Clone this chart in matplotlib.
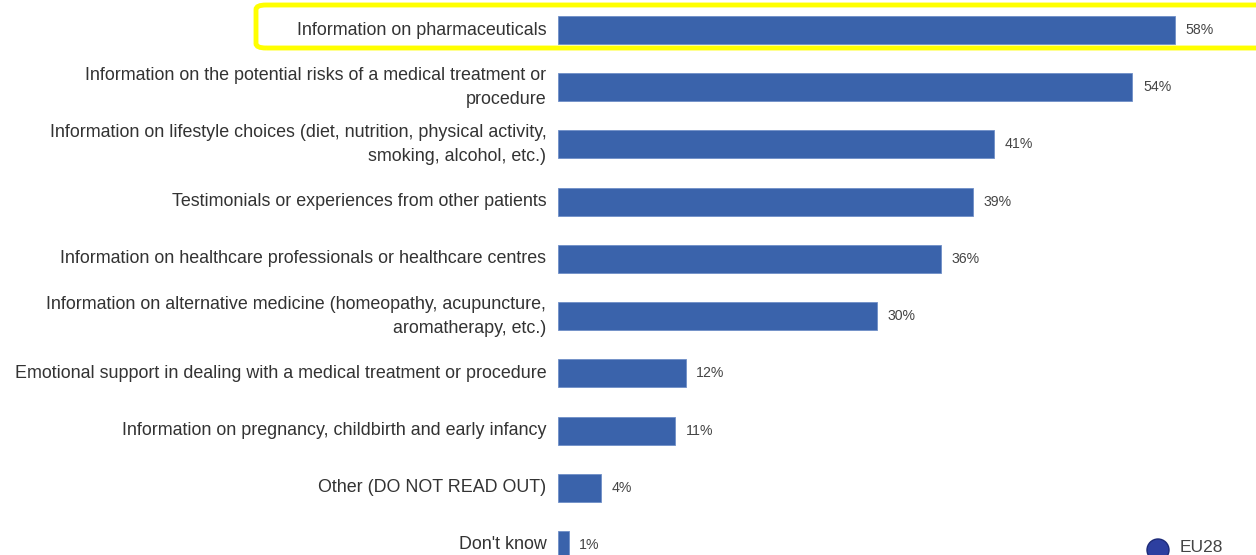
import matplotlib.pyplot as plt
from matplotlib.patches import FancyBboxPatch, Ellipse

# ── data ─────────────────────────────────────────────────────────────────────
categories = [
    "Information on pharmaceuticals",
    "Information on the potential risks of a medical treatment or\nprocedure",
    "Information on lifestyle choices (diet, nutrition, physical activity,\nsmoking, alcohol, etc.)",
    "Testimonials or experiences from other patients",
    "Information on healthcare professionals or healthcare centres",
    "Information on alternative medicine (homeopathy, acupuncture,\naromatherapy, etc.)",
    "Emotional support in dealing with a medical treatment or procedure",
    "Information on pregnancy, childbirth and early infancy",
    "Other (DO NOT READ OUT)",
    "Don't know",
]
values = [58, 54, 41, 39, 36, 30, 12, 11, 4, 1]
series_name = "EU28"

BAR_COLOR = "#3A63AB"
plt.rcParams["font.family"] = ["Liberation Sans", "DejaVu Sans"]

W, H = 1256, 555
fig = plt.figure(figsize=(W / 100, H / 100), dpi=100)
left = 558 / W
ax = fig.add_axes([left, 0, 1 - left, 1])

px_per_pct = (1175 - 558) / 58
ax.set_xlim(0, (W - 558) / px_per_pct)
row = 57.2
ax.set_ylim(9 + (H - 545) / row, -30 / row)

ypos = range(len(values))
ax.barh(ypos, values, height=28 / row, color=BAR_COLOR, edgecolor="#6f8fc8", linewidth=0.6)

for y, v in zip(ypos, values):
    ax.text(v + 1.0, y, f"{v}%", va="center", ha="left", fontsize=10.2, color="#444444")

for y, lab in zip(ypos, categories):
    ax.text(-1.1, y, lab, va="center", ha="right", fontsize=12.9,
            color="#333333", linespacing=1.55, clip_on=False)

ax.axis("off")

# yellow highlight round the first row
box = FancyBboxPatch((256 / W, 1 - 48 / H), 1.02 - 256 / W, 43 / H,
                     boxstyle="round,pad=0,rounding_size=0.008",
                     transform=fig.transFigure, fill=False,
                     edgecolor="#FFFF00", linewidth=3.5, clip_on=False)
fig.patches.append(box)

# legend marker (globe, cut by the bottom edge as in the source)
globe = Ellipse((1158 / W, 1 - 550 / H), 22 / W, 22 / H, transform=fig.transFigure,
                facecolor="#2d3fa0", edgecolor="#1c2a78", linewidth=1)
fig.patches.append(globe)
fig.text(1180 / W, 1 - 547 / H, series_name, fontsize=12.5, color="#444444",
         ha="left", va="center")

fig.savefig("out.png", dpi=100, facecolor="white")
